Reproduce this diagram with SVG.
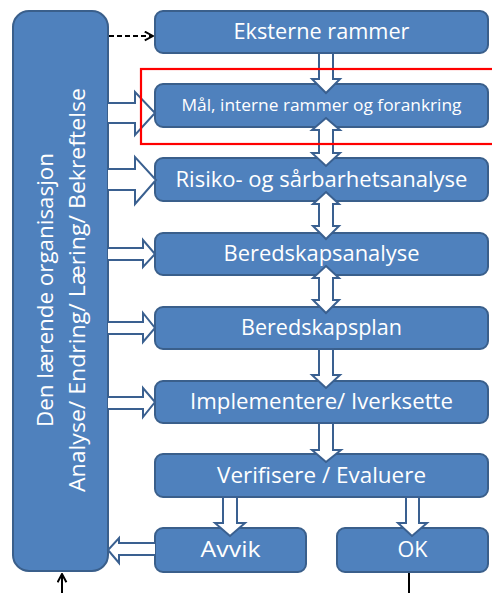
<svg xmlns="http://www.w3.org/2000/svg" width="492" height="593" viewBox="0 0 492 593">
  <defs>
    <style>
      .box { fill: #4F81BD; stroke: #3A5F8B; stroke-width: 2; }
      .lbl { fill: #FFFFFF; font-family: "Open Sans", "Noto Sans", "Liberation Sans", sans-serif; text-anchor: middle; }
      .blk { fill: #FFFFFF; stroke: #3A6090; stroke-width: 2; stroke-linejoin: miter; }
      .thin { fill: none; stroke: #000000; stroke-width: 2; }
    </style>
    <marker id="open" viewBox="0 0 10 10" refX="9" refY="5" markerWidth="11" markerHeight="11" orient="auto" markerUnits="userSpaceOnUse">
      <path d="M1.5,1 L9,5 L1.5,9" fill="none" stroke="#000" stroke-width="1.8"/>
    </marker>
  </defs>

  <!-- process boxes -->
  <g id="organisasjon">
    <rect class="box" x="13" y="11" width="95" height="560" rx="16"/>
    <text class="lbl" font-size="21" transform="translate(53,290) rotate(-90)" textLength="274" lengthAdjust="spacingAndGlyphs">Den lærende organisasjon</text>
    <text class="lbl" font-size="21" transform="translate(85,290) rotate(-90)" textLength="404" lengthAdjust="spacingAndGlyphs">Analyse/ Endring/ Læring/ Bekreftelse</text>
  </g>
  <g id="eksterne">
    <rect class="box" x="155" y="11" width="333" height="42" rx="8"/>
    <text class="lbl" x="321.5" y="39" font-size="21" textLength="176" lengthAdjust="spacingAndGlyphs">Eksterne rammer</text>
  </g>
  <g id="maal">
    <rect class="box" x="155" y="84" width="333" height="43" rx="8"/>
    <text class="lbl" x="321.5" y="111" font-size="17" textLength="280" lengthAdjust="spacingAndGlyphs">Mål, interne rammer og forankring</text>
  </g>
  <g id="risiko">
    <rect class="box" x="155" y="158" width="333" height="43" rx="8"/>
    <text class="lbl" x="321.5" y="187" font-size="21" textLength="292" lengthAdjust="spacingAndGlyphs">Risiko- og sårbarhetsanalyse</text>
  </g>
  <g id="beredskapsanalyse">
    <rect class="box" x="155" y="233" width="333" height="42" rx="8"/>
    <text class="lbl" x="321.5" y="261" font-size="21" textLength="196" lengthAdjust="spacingAndGlyphs">Beredskapsanalyse</text>
  </g>
  <g id="beredskapsplan">
    <rect class="box" x="155" y="307" width="333" height="42" rx="8"/>
    <text class="lbl" x="321.5" y="335" font-size="21" textLength="161" lengthAdjust="spacingAndGlyphs">Beredskapsplan</text>
  </g>
  <g id="implementere">
    <rect class="box" x="155" y="381" width="333" height="42" rx="8"/>
    <text class="lbl" x="321.5" y="409" font-size="21" textLength="263" lengthAdjust="spacingAndGlyphs">Implementere/ Iverksette</text>
  </g>
  <g id="verifisere">
    <rect class="box" x="155" y="454" width="333" height="43" rx="8"/>
    <text class="lbl" x="321.5" y="483" font-size="21" textLength="209" lengthAdjust="spacingAndGlyphs">Verifisere / Evaluere</text>
  </g>
  <g id="avvik">
    <rect class="box" x="155" y="528" width="151" height="44" rx="8"/>
    <text class="lbl" x="230.5" y="557" font-size="21" textLength="60" lengthAdjust="spacingAndGlyphs">Avvik</text>
  </g>
  <g id="ok">
    <rect class="box" x="337" y="528" width="151" height="44" rx="8"/>
    <text class="lbl" x="412.5" y="557" font-size="21" textLength="30" lengthAdjust="spacingAndGlyphs">OK</text>
  </g>

  <!-- connectors -->
  <g id="connectors">
    <!-- vertical block arrows -->
    <path class="blk" d="M319,53 L333,53 L333,79 L340,79 L326,93 L312,79 L319,79 Z"/>
    <path class="blk" d="M326,118 L340,130 L333,130 L333,153 L340,153 L326,166 L312,153 L319,153 L319,130 L312,130 Z"/>
    <path class="blk" d="M326,192 L339,204 L333,204 L333,226 L339,226 L326,239 L313,226 L319,226 L319,204 L313,204 Z"/>
    <path class="blk" d="M326,266 L339,278 L333,278 L333,300 L339,300 L326,313 L313,300 L319,300 L319,278 L313,278 Z"/>
    <path class="blk" d="M319,349 L333,349 L333,375 L340,375 L326,388 L312,375 L319,375 Z"/>
    <path class="blk" d="M319,423 L333,423 L333,450 L341,450 L326,462 L312,450 L319,450 Z"/>
    <path class="blk" d="M223,497 L237,497 L237,523 L245,523 L230,536 L215,523 L223,523 Z"/>
    <path class="blk" d="M406,497 L419,497 L419,523 L427,523 L412,536 L398,523 L406,523 Z"/>

    <!-- horizontal block arrows from the learning organisation -->
    <path class="blk" d="M108,103 L135,103 L135,92 L155,113 L135,135 L135,123 L108,123"/>
    <path class="blk" d="M108,169 L135,169 L135,157 L156,180 L135,204 L135,190 L108,190"/>
    <path class="blk" d="M108,248 L143,248 L143,240 L155,254 L143,267 L143,260 L108,260"/>
    <path class="blk" d="M108,322 L143,322 L143,313 L155,328 L143,342 L143,334 L108,334"/>
    <path class="blk" d="M108,397 L143,397 L143,388 L155,402 L143,417 L143,409 L108,409"/>
    <path class="blk" d="M155,543 L119,543 L119,538 L108,550 L119,563 L119,555 L155,555"/>

    <!-- thin connectors -->
    <line class="thin" x1="109" y1="36" x2="153" y2="36" stroke-dasharray="5,3" marker-end="url(#open)"/>
    <line class="thin" x1="62" y1="593" x2="62" y2="574" stroke-width="2.5" marker-end="url(#open)"/>
    <line class="thin" x1="409" y1="573" x2="409" y2="593" stroke-width="2.5"/>
  </g>

  <!-- highlight frame -->
  <rect x="141" y="69" width="353" height="75" fill="none" stroke="#FF0000" stroke-width="2.2"/>
</svg>
